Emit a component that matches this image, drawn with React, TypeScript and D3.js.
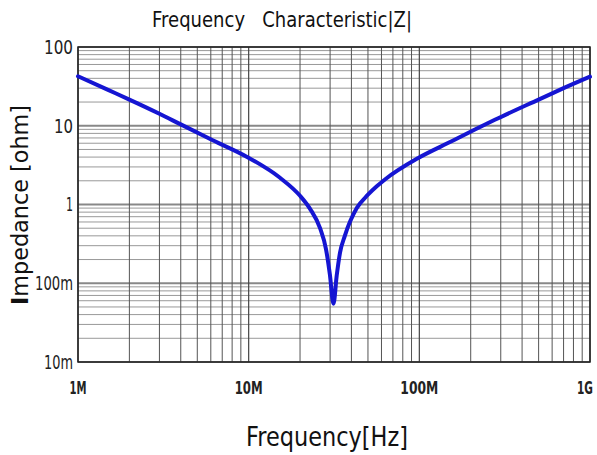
import React from "react";
import * as d3 from "d3";

// Frequency (Hz) and |Z| (ohm)
const freqs = [1e6, 1.5e6, 2e6, 3e6, 4e6, 6.2e6, 9.73e6, 15.2e6, 20e6, 22.9e6, 26.2e6, 28.4e6, 29.9e6, 31.4e6, 32.8e6, 34.3e6, 36.6e6, 43e6, 50e6, 56.3e6, 62.9e6, 98.6e6, 154.6e6, 211.7e6, 277e6, 500e6, 700e6, 1e9];
const impedance = [42.5, 28.5, 21.5, 14.2, 10.4, 6.5, 4.05, 2.2, 1.29, 0.88, 0.5, 0.27, 0.13, 0.055, 0.125, 0.245, 0.4, 0.9, 1.33, 1.7, 2.08, 3.9, 6.35, 8.95, 11.9, 21.5, 30, 42];

const xTickValues = [1e6, 1e7, 1e8, 1e9];
const xTickLabels = ["1M", "10M", "100M", "1G"];
const xTickWidths = [17, 28, 38, 16];
const yTickValues = [100, 10, 1, 0.1, 0.01];
const yTickLabels = ["100", "10", "1", "100m", "10m"];
const yTickWidths = [29, 19, 7, 38, 29];

const W = 597, H = 455;
const L = 78, R = 590, T = 47, B = 362;
const FONT = "'DejaVu Sans', 'Liberation Sans', sans-serif";

export default function App() {
  const x = d3.scaleLog().domain([1e6, 1e9]).range([L, R]);
  const y = d3.scaleLog().domain([0.01, 100]).range([B, T]);

  const xMinor: number[] = [];
  for (let d = 6; d < 9; d++) for (let k = 2; k <= 9; k++) xMinor.push(k * Math.pow(10, d));
  const yMinor: number[] = [];
  for (let d = -2; d < 2; d++) for (let k = 2; k <= 9; k++) yMinor.push(k * Math.pow(10, d));

  const pts: [number, number][] = freqs.map((f, i) => [x(f), y(impedance[i])]);
  const line = d3.line().curve(d3.curveMonotoneX)(pts) || "";

  return (
    <svg width={W} height={H} style={{ position: "absolute", left: 0, top: 0, background: "#fff" }}>
      <rect x={0} y={0} width={W} height={H} fill="#fff" />
      {yMinor.map((v, i) => (
        <line key={"hy" + i} x1={L} x2={R} y1={y(v)} y2={y(v)} stroke="#999" strokeWidth={1} />
      ))}
      {yTickValues.map((v, i) => (
        <line key={"hY" + i} x1={L} x2={R} y1={y(v)} y2={y(v)} stroke="#888" strokeWidth={2} />
      ))}
      {xMinor.map((v, i) => (
        <line key={"vx" + i} x1={x(v)} x2={x(v)} y1={T} y2={B} stroke="#555" strokeWidth={1} />
      ))}
      {xTickValues.map((v, i) => (
        <line key={"vX" + i} x1={x(v)} x2={x(v)} y1={T} y2={B} stroke="#444" strokeWidth={1.2} />
      ))}
      <rect x={L} y={T} width={R - L} height={B - T} fill="none" stroke="#222" strokeWidth={1.5} />
      <path d={line} fill="none" stroke="#1515d2" strokeWidth={4} strokeLinejoin="round" strokeLinecap="round" />
      {yTickValues.map((v, i) => (
        <text key={"yl" + i} x={73} y={y(v)} dy="0.36em" textAnchor="end" fontFamily={FONT} fontSize={19} fill="#222"
          textLength={yTickWidths[i]} lengthAdjust="spacingAndGlyphs">
          {yTickLabels[i]}
        </text>
      ))}
      {xTickValues.map((v, i) => (
        <text key={"xl" + i} x={i === 3 ? x(v) - 5 : x(v)} y={394} textAnchor="middle" fontFamily={FONT} fontSize={18} fontWeight="bold" fill="#222"
          textLength={xTickWidths[i]} lengthAdjust="spacingAndGlyphs">
          {xTickLabels[i]}
        </text>
      ))}
      <text x={282} y={27} textAnchor="middle" fontFamily={FONT} fontSize={21} fill="#111" textLength={260} lengthAdjust="spacingAndGlyphs" style={{ whiteSpace: "pre" }}>
        {"Frequency   Characteristic|Z|"}
      </text>
      <text x={327} y={446} textAnchor="middle" fontFamily={FONT} fontSize={27} fill="#111" textLength={162} lengthAdjust="spacingAndGlyphs">
        Frequency[Hz]
      </text>
      <text transform="translate(28,205) rotate(-90)" textAnchor="middle" fontFamily={FONT} fontSize={23} fill="#111" textLength={200} lengthAdjust="spacingAndGlyphs">
        <tspan fontWeight="bold">I</tspan>mpedance [ohm]
      </text>
    </svg>
  );
}
